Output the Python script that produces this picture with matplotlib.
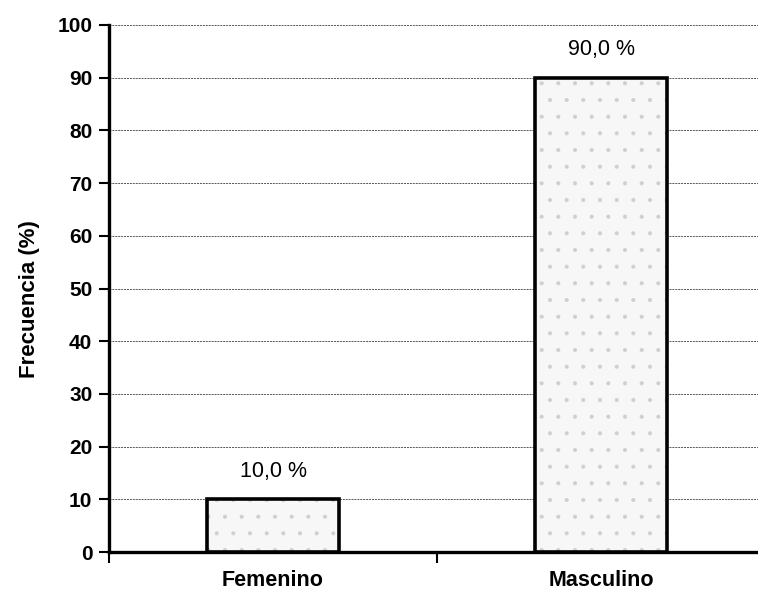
import matplotlib.pyplot as plt
import matplotlib as mpl

# Datos del grafico
categorias = ["Femenino", "Masculino"]
frecuencia = [10.0, 90.0]
etiquetas = ["10,0 %", "90,0 %"]

plt.rcParams["font.family"] = ["Liberation Sans", "DejaVu Sans"]
mpl.rcParams["hatch.linewidth"] = 0.5

fig = plt.figure(figsize=(7.58, 6.0), dpi=100)
ax = fig.add_axes([109 / 758, 48 / 600, 656 / 758, 527 / 600])

x = [0.5, 1.5]
# relleno punteado claro, luego el borde negro
ax.bar(x, frecuencia, width=0.4, facecolor="#f7f7f7", edgecolor="#cfcfcf",
       linewidth=0, hatch=".", zorder=3)
ax.bar(x, frecuencia, width=0.4, facecolor="none", edgecolor="black",
       linewidth=2.6, zorder=4)

for xi, v, lab in zip(x, frecuencia, etiquetas):
    ax.text(xi, v + 5.3, lab, ha="center", va="center", fontsize=15.5)

ax.set_xlim(0, 2)
ax.set_ylim(0, 100)
ax.set_yticks(range(0, 101, 10))
ax.set_xticks([0, 1, 2])
ax.set_xticklabels([])
ax.set_xticks(x, minor=True)
ax.set_xticklabels(categorias, minor=True, fontsize=15.5, fontweight="bold")
ax.tick_params(axis="x", which="minor", length=0, pad=13)
ax.tick_params(axis="x", which="major", length=8, width=1.5, direction="out")
ax.tick_params(axis="y", length=7, width=1.5, direction="out", labelsize=15, pad=5)
for t in ax.get_yticklabels():
    t.set_fontweight("bold")

ax.yaxis.grid(True, linestyle=(0, (2, 1)), color="#555555", linewidth=0.7, zorder=0)
ax.set_axisbelow(True)

for s in ["top", "right"]:
    ax.spines[s].set_visible(False)
ax.spines["left"].set_linewidth(2.4)
ax.spines["bottom"].set_linewidth(2.4)

ax.set_ylabel("Frecuencia (%)", fontsize=16, fontweight="bold")
ax.yaxis.set_label_coords(-0.105, 0.48)

fig.savefig("out.png", dpi=100)
